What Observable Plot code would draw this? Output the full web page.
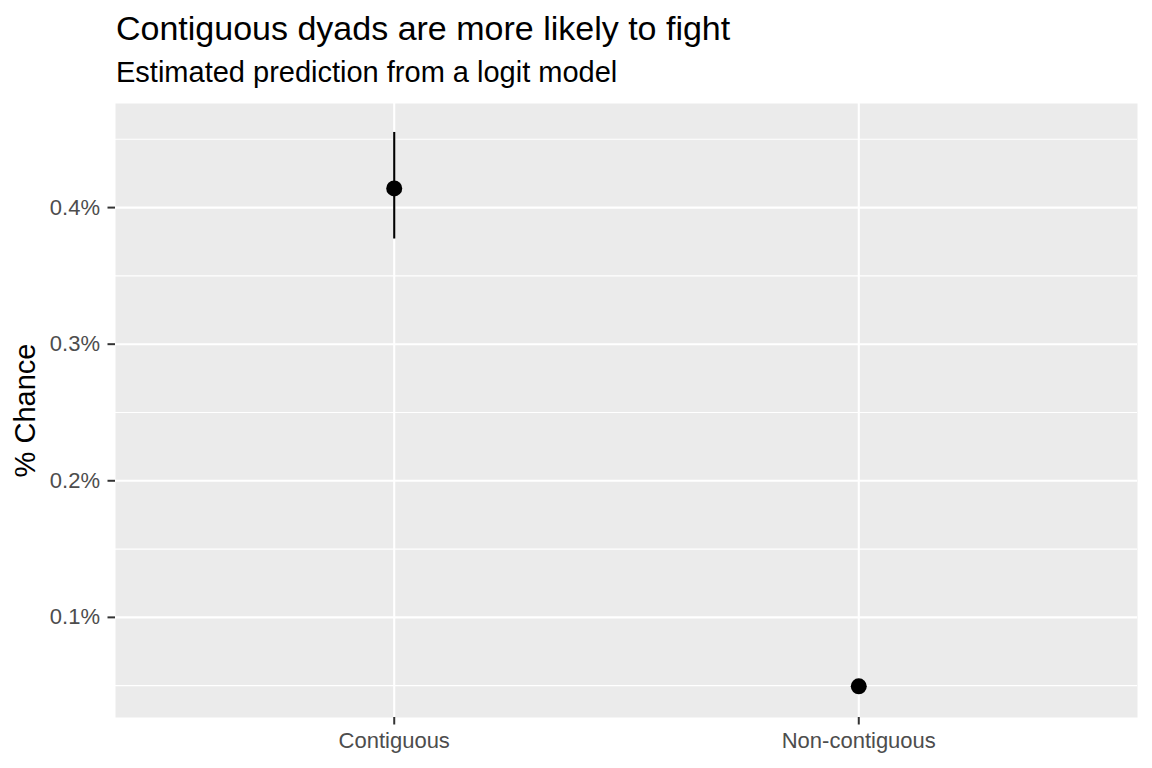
<!DOCTYPE html>
<html>
<head>
<meta charset="utf-8">
<script src="https://cdn.jsdelivr.net/npm/d3@7"></script>
<script src="https://cdn.jsdelivr.net/npm/@observablehq/plot@0.6"></script>
<style>
  body { margin: 0; background: #fff; font-family: "Liberation Sans", Arial, sans-serif; }
  #wrap { position: relative; width: 1152px; height: 768px; }
  #header { position: relative; height: 103px; }
  .t { position: absolute; left: 116px; line-height: 1; white-space: nowrap; color: #000; }
  #title { top: 11px; font-size: 34px; }
  #subtitle { top: 58px; font-size: 29px; }
</style>
</head>
<body>
<div id="wrap">
  <div id="header">
    <div class="t" id="title">Contiguous dyads are more likely to fight</div>
    <div class="t" id="subtitle">Estimated prediction from a logit model</div>
  </div>
  <div id="chart"></div>
</div>
<script>
const categories = ["Contiguous", "Non-contiguous"];
const estimate = [0.414, 0.0495];
const lower = [0.377, 0.0478];
const upper = [0.455, 0.0512];
const majorTicks = [0.1, 0.2, 0.3, 0.4];
const minorTicks = [0.05, 0.15, 0.25, 0.35, 0.45];
const yTitle = "% Chance";

const data = categories.map((c, i) => ({cat: c, est: estimate[i], lo: lower[i], hi: upper[i]}));

const chart = Plot.plot({
  width: 1152,
  height: 665,
  marginLeft: 115,
  marginRight: 15,
  marginTop: 0,
  marginBottom: 51,
  style: {fontFamily: "'Liberation Sans', Arial, sans-serif", background: "#fff"},
  x: {type: "point", domain: categories, padding: 0.6, round: false},
  y: {domain: [0.0267, 0.4762]},
  marks: [
    Plot.frame({fill: "#EBEBEB", stroke: null}),
    Plot.gridY(minorTicks, {stroke: "#fff", strokeOpacity: 1, strokeWidth: 1.1}),
    Plot.gridY(majorTicks, {stroke: "#fff", strokeOpacity: 1, strokeWidth: 2.1}),
    Plot.gridX(categories, {stroke: "#fff", strokeOpacity: 1, strokeWidth: 2.1}),
    Plot.axisY(majorTicks, {tickSize: 7.5, tickPadding: 8, tickFormat: d => d + "%", fontSize: 22, stroke: "#333333", fill: "#4D4D4D", strokeWidth: 2, label: null}),
    Plot.axisX(categories, {tickSize: 7.5, tickPadding: 7, fontSize: 22, stroke: "#333333", fill: "#4D4D4D", strokeWidth: 2, label: null}),
    Plot.ruleX(data, {x: "cat", y1: "lo", y2: "hi", stroke: "#000", strokeWidth: 2.1}),
    Plot.dot(data, {x: "cat", y: "est", r: 8, fill: "#000", stroke: null}),
    Plot.text([yTitle], {frameAnchor: "left", dx: -90, rotate: -90, textAnchor: "middle", fontSize: 29, fill: "#000"})
  ]
});
document.getElementById("chart").appendChild(chart);
</script>
</body>
</html>
